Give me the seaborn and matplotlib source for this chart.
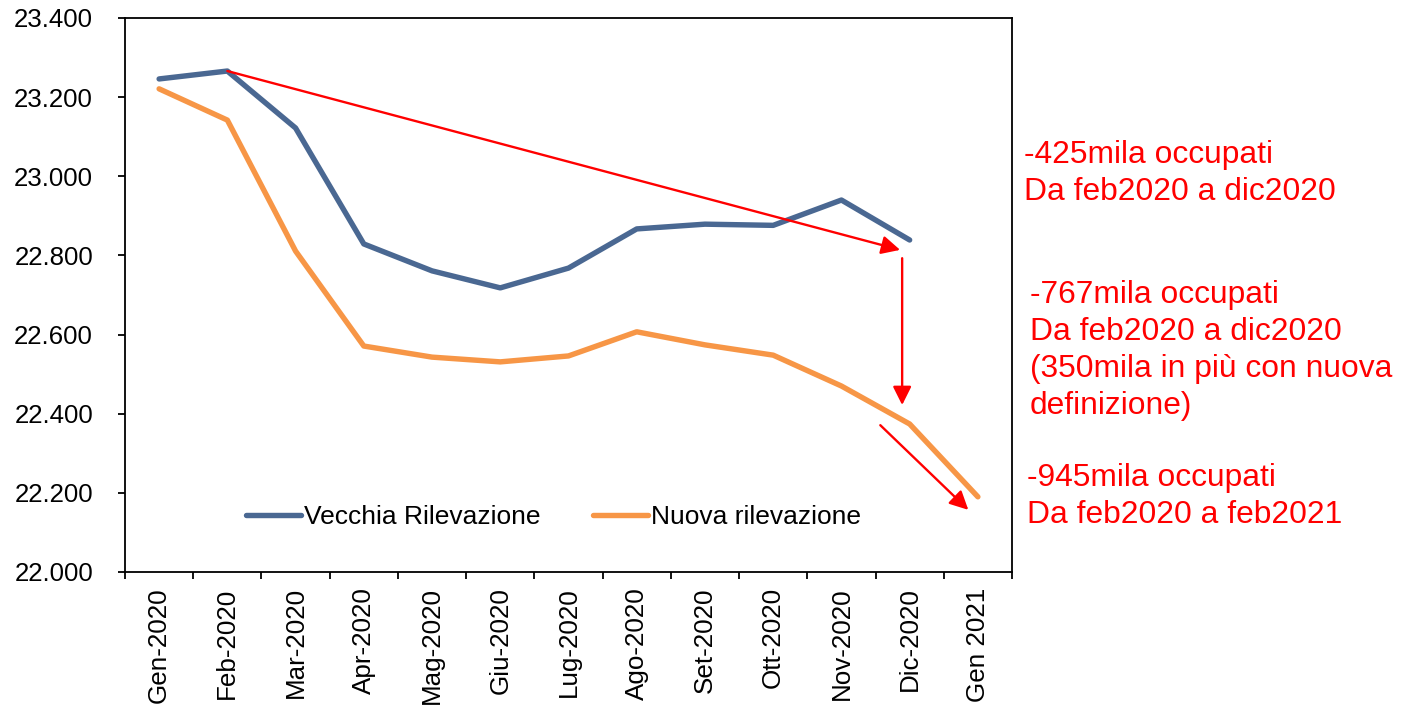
import pandas as pd
import seaborn as sns
import numpy as np
import matplotlib.pyplot as plt
from matplotlib.ticker import FuncFormatter, FixedLocator

# data (thousands of employed)
mesi = ['Gen-2020', 'Feb-2020', 'Mar-2020', 'Apr-2020', 'Mag-2020', 'Giu-2020',
        'Lug-2020', 'Ago-2020', 'Set-2020', 'Ott-2020', 'Nov-2020', 'Dic-2020', 'Gen 2021']
vecchia = [23246, 23266, 23122, 22829, 22761, 22718, 22768, 22867, 22879, 22876, 22940, 22839, np.nan]
nuova = [23221, 23142, 22811, 22571, 22543, 22531, 22546, 22607, 22574, 22548, 22470, 22374, 22190]
serie = ['Vecchia Rilevazione', 'Nuova rilevazione']
colori = ['#4A6892', '#F79646']

sns.set_style('ticks')
plt.rcParams['font.family'] = ['Liberation Sans', 'DejaVu Sans']

df = pd.DataFrame({
    'pos': list(range(len(mesi))) * 2,
    'valore': vecchia + nuova,
    'serie': [serie[0]] * len(mesi) + [serie[1]] * len(mesi),
})

fig = plt.figure(figsize=(14.1, 7.05), dpi=100)
ax = fig.add_axes([125 / 1410, 1 - 572 / 705, 887 / 1410, 554 / 705])

sns.lineplot(data=df, x='pos', y='valore', hue='serie', palette=colori,
             linewidth=3.9, ax=ax, legend=True)
for ln in ax.lines:
    ln.set_solid_capstyle('round')

ax.set_xlim(-0.5, len(mesi) - 0.5)
ax.set_ylim(22000, 23400)
ax.set_yticks(np.arange(22000, 23401, 200))
ax.yaxis.set_major_formatter(FuncFormatter(lambda v, p: f'{v:,.0f}'.replace(',', '.')))
ax.set_xticks(range(len(mesi)))
ax.set_xticklabels(mesi, rotation=90)
ax.xaxis.set_minor_locator(FixedLocator(np.arange(-0.5, len(mesi), 1)))
ax.tick_params(axis='x', which='major', length=0, pad=11, labelsize=18.7, labelcolor='black')
ax.tick_params(axis='x', which='minor', length=5, width=1.3, direction='out', color='black')
ax.tick_params(axis='y', length=5, width=1.3, pad=18, labelsize=18.6, labelcolor='black', color='black')
ax.set_xlabel('')
ax.set_ylabel('')
for s in ax.spines.values():
    s.set_visible(True)
    s.set_linewidth(1.3)
    s.set_color('black')

leg = ax.legend(loc='center', bbox_to_anchor=(0.483, 0.099), ncol=2, frameon=False,
                fontsize=19, handlelength=2.1, handletextpad=0.1, columnspacing=2.0)
for t in leg.get_texts():
    t.set_color('black')

# red arrows
arr = dict(arrowstyle='-|>', color='red', lw=1.7, mutation_scale=28, shrinkA=0, shrinkB=0)
ax.annotate('', xy=(10.86, 22814), xytext=(1, vecchia[1]), arrowprops=arr)
ax.annotate('', xy=(10.89, 22422), xytext=(10.89, 22793), arrowprops=arr)
ax.annotate('', xy=(11.86, 22157), xytext=(10.57, 22371), arrowprops=arr)

# annotations on the right
txt = dict(color='red', fontsize=22.9, va='top', ha='left', linespacing=1.3)
fig.text(1024 / 1410, 1 - 140 / 705, '-425mila occupati\nDa feb2020 a dic2020', **txt)
fig.text(1030 / 1410, 1 - 280 / 705,
         '-767mila occupati\nDa feb2020 a dic2020\n(350mila in più con nuova\ndefinizione)', **txt)
fig.text(1027 / 1410, 1 - 463 / 705, '-945mila occupati\nDa feb2020 a feb2021', **txt)

fig.savefig('out.png', dpi=100)
